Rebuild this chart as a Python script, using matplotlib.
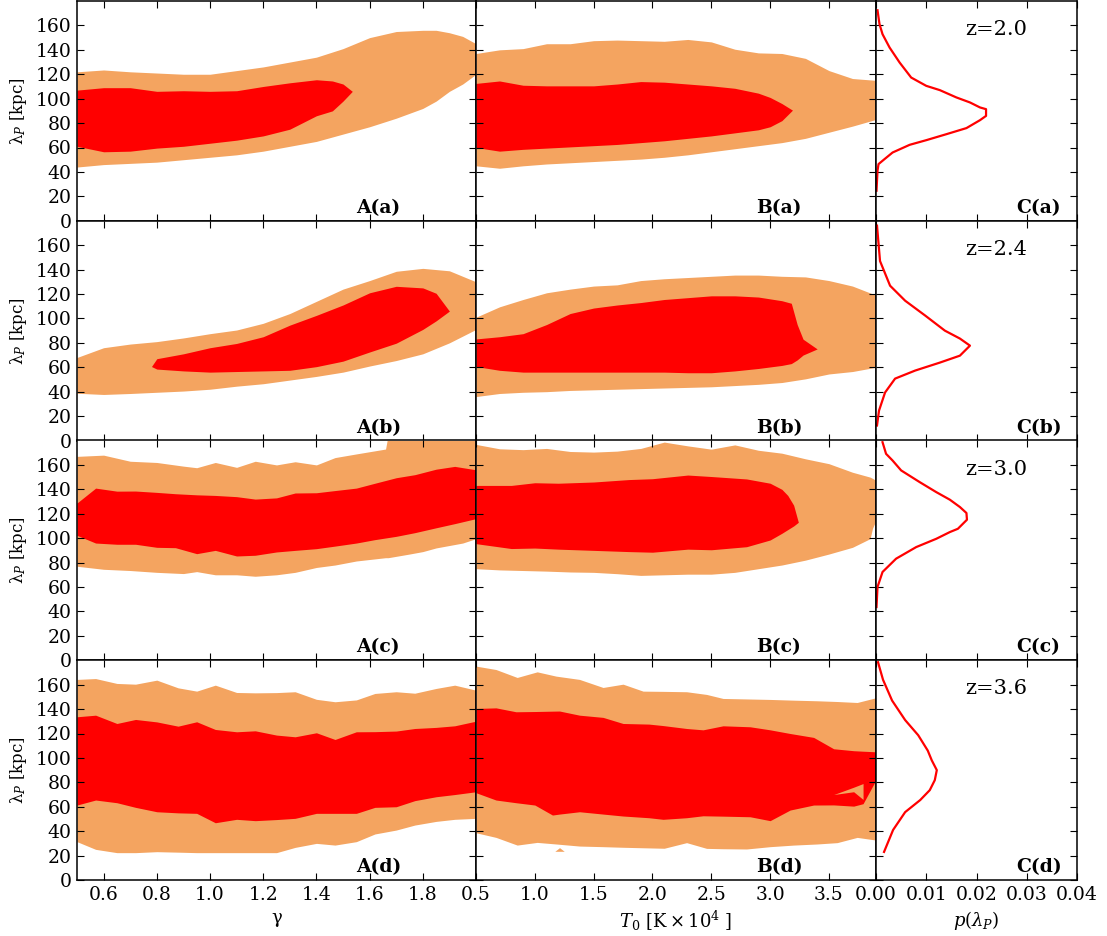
import numpy as np
import matplotlib.pyplot as plt
from matplotlib.gridspec import GridSpec

plt.rcParams['font.family'] = 'DejaVu Serif'
plt.rcParams['mathtext.fontset'] = 'dejavuserif'

ORANGE = '#f4a460'
RED = '#ff0000'

redshifts = ['z=2.0', 'z=2.4', 'z=3.0', 'z=3.6']
rows = ['a', 'b', 'c', 'd']

# ---- column A: gamma vs lambda_P (outer = orange, inner = red) ----
ga_out_x = [0.5, 0.6, 0.7, 0.8, 0.9, 1.0, 1.1, 1.2, 1.3, 1.4, 1.5, 1.6, 1.7, 1.8, 1.85, 1.9, 1.95, 2.0]
ga_out_hi = [122, 123.5, 122, 121, 120, 120, 123, 126, 130, 134, 141, 150, 155, 156, 156, 154, 151, 145]
ga_out_lo = [44, 46, 47, 48, 50, 52, 54, 57, 61, 65, 71, 77, 84, 92, 98, 106, 112, 120]
ga_in_x = [0.5, 0.6, 0.7, 0.8, 0.9, 1.0, 1.1, 1.2, 1.3, 1.4, 1.46, 1.5, 1.535]
ga_in_hi = [107, 109, 109, 106, 106.5, 106, 106.5, 110, 113, 115.5, 114.5, 112, 106]
ga_in_lo = [61, 56.5, 57, 59.5, 61, 63.5, 66, 69.5, 75, 86, 90, 98, 106]

gb_out_x = [0.5, 0.6, 0.7, 0.8, 0.9, 1.0, 1.1, 1.2, 1.3, 1.4, 1.5, 1.6, 1.7, 1.8, 1.9, 2.0]
gb_out_hi = [68, 76, 79, 81, 84, 87.5, 90.5, 96, 104, 114, 124, 131, 138.6, 141, 139, 130]
gb_out_lo = [38.7, 37.7, 38.5, 39.5, 40.5, 42, 44.5, 46.5, 49.5, 52.5, 56, 61, 65.5, 71, 80, 91]
gb_in_x = [0.78, 0.8, 0.9, 1.0, 1.1, 1.2, 1.3, 1.4, 1.5, 1.6, 1.7, 1.8, 1.85, 1.9]
gb_in_hi = [60.6, 67, 71, 76, 79.5, 85, 94.5, 102.5, 111, 121, 126.3, 125, 120.6, 106]
gb_in_lo = [60.6, 58.5, 57, 56, 56.5, 57, 57.5, 60.5, 65, 72.5, 79.7, 91, 98, 106]

gc_out_x = [0.5, 0.6, 0.7, 0.8, 0.9, 0.95, 1.02, 1.1, 1.17, 1.25, 1.32, 1.4, 1.47, 1.55,
            1.66, 1.67, 1.75, 1.8, 1.85, 1.9, 1.95, 2.0]
gc_out_hi = [167, 168, 163, 162, 159, 157.7, 162, 158, 163, 160, 162.6, 160, 166, 169,
             173, 185, 185, 185, 185, 185, 185, 185]
gc_out_lo = [77, 74.5, 73.5, 72, 71, 72.6, 70, 70, 68.8, 70, 72, 76, 78, 81.3,
             84, 84, 87, 89, 92, 94, 96, 99.6]
gc_in_x = [0.5, 0.57, 0.65, 0.72, 0.8, 0.87, 0.95, 1.02, 1.1, 1.17, 1.25, 1.32, 1.4, 1.47,
           1.55, 1.62, 1.7, 1.77, 1.85, 1.92, 2.0]
gc_in_hi = [128.8, 141, 138.5, 138.6, 137.5, 136.4, 135.5, 135, 134, 132, 133, 137, 137.2, 139,
            141, 145, 149.5, 152, 156.5, 158.8, 156]
gc_in_lo = [102.3, 96, 95, 95, 92.5, 92.2, 87.3, 90, 85.4, 86, 88.7, 90, 91.4, 93.5,
            96, 98.8, 101.5, 104.5, 108.5, 111.9, 116]

gd_x = [0.5, 0.57, 0.65, 0.72, 0.8, 0.88, 0.95, 1.02, 1.1, 1.17, 1.25, 1.32, 1.4, 1.47,
        1.55, 1.62, 1.7, 1.77, 1.85, 1.92, 2.0]
gd_out_hi = [164.3, 165, 161, 160.4, 163.7, 157.4, 154.7, 159.6, 153.6, 153.3, 153.5, 154.2, 148, 146,
             147.5, 152.8, 154.2, 153, 156.9, 159.6, 155.5]
gd_out_lo = [31.4, 25.1, 22.4, 22.4, 23.2, 22.8, 22.4, 22.4, 22.4, 22.4, 22.4, 26.7, 30, 28.6,
             31.4, 37.7, 40.9, 45, 48, 49.7, 50.5]
gd_in_hi = [133.7, 135, 128.2, 131.5, 129.5, 126, 129.6, 123.3, 121.4, 122.2, 118.7, 117.3, 120.6, 115.1,
            121.4, 121.5, 122, 124.1, 125, 126.3, 130.1]
gd_in_lo = [61.4, 65.5, 63.3, 59.5, 55.9, 55, 54.6, 46.9, 49.7, 48.6, 49.5, 50.5, 54.6, 54.6,
            54.6, 59.5, 60, 65, 68.2, 70, 72.3]

# ---- column B: T0 vs lambda_P ----
ta_out_x = [0.5, 0.7, 0.9, 1.1, 1.3, 1.5, 1.7, 1.9, 2.1, 2.3, 2.5, 2.7, 2.9, 3.1, 3.3, 3.5, 3.7, 3.9]
ta_out_hi = [137, 140, 141, 145, 145, 147.5, 148, 147.5, 147, 148.5, 146.5, 140.5, 137.5, 137, 133, 123, 116.5, 115]
ta_out_lo = [45, 43, 45, 46.5, 47.5, 48.5, 49.5, 50.5, 52, 54, 56.5, 59, 61.5, 64, 67.5, 72.5, 77.5, 83]
ta_in_x = [0.5, 0.7, 0.9, 1.1, 1.3, 1.5, 1.7, 1.9, 2.1, 2.3, 2.5, 2.7, 2.9, 3.0, 3.1, 3.19]
ta_in_hi = [112.5, 114.5, 111, 110.5, 110.5, 110.5, 112, 114, 113.5, 112, 110.5, 108.5, 104.5, 101, 96, 90.6]
ta_in_lo = [60, 57, 58.5, 59.5, 60.5, 61.5, 62.5, 64, 65.5, 67.5, 69.5, 72, 74.5, 77, 82, 90.6]

tb_out_x = [0.5, 0.7, 0.9, 1.1, 1.3, 1.5, 1.7, 1.9, 2.1, 2.3, 2.5, 2.7, 2.9, 3.1, 3.3, 3.5, 3.7, 3.9]
tb_out_hi = [101, 109.5, 115.5, 121, 124, 126.5, 127.5, 131, 132.5, 133.5, 134.5, 135.5, 135.5, 134.5, 134, 131, 126.5, 119]
tb_out_lo = [36, 38.5, 39.5, 40, 41, 41.5, 42, 42.5, 43, 43.5, 44, 45, 46, 47.5, 50.5, 54.5, 56.5, 60]
tb_in_x = [0.5, 0.7, 0.9, 1.1, 1.3, 1.5, 1.7, 1.9, 2.1, 2.3, 2.5, 2.7, 2.9, 3.1, 3.18, 3.23, 3.28, 3.4]
tb_in_hi = [83.2, 85, 87.5, 95, 104, 108.5, 111, 113, 115.5, 117, 118.5, 118.5, 117.5, 114.5, 112.4, 95, 83, 75]
tb_in_lo = [60.6, 57.5, 56, 56, 56, 56, 56, 56, 56, 55.5, 55.5, 57, 59, 61.5, 63, 66, 70, 75]

tc_out_x = [0.5, 0.7, 0.9, 1.1, 1.3, 1.5, 1.7, 1.9, 2.1, 2.3, 2.5, 2.7, 2.9, 3.1, 3.3, 3.5, 3.7, 3.85, 3.87, 3.9]
tc_out_hi = [176.8, 173.2, 172.5, 173.5, 171, 170.5, 171.3, 173.5, 178.7, 175.6, 172.9, 176.4, 172, 169.6,
             165, 161, 154, 150, 149, 147.3]
tc_out_lo = [75, 74, 73.5, 73, 72.3, 72, 70.9, 69.5, 70, 70.5, 70.5, 72, 75, 78, 82, 87, 92.5, 99.6, 108, 114.6]
tc_in_x = [0.5, 0.8, 1.0, 1.2, 1.5, 1.8, 2.0, 2.3, 2.5, 2.8, 3.0, 3.1, 3.15, 3.2, 3.24]
tc_in_hi = [143.2, 143.2, 145.4, 145, 146, 148, 148.7, 151.7, 150.5, 148.5, 145, 140, 135, 127, 113]
tc_in_lo = [95.5, 91.5, 91.9, 91, 90, 89, 88.5, 91, 90.5, 93, 98.5, 104, 107, 110, 113]

td_out_x = [0.5, 0.67, 0.85, 1.02, 1.18, 1.38, 1.58, 1.75, 1.92, 2.1, 2.29, 2.46, 2.6, 2.8, 3.0, 3.2,
            3.4, 3.57, 3.74, 3.9]
td_out_hi = [175.2, 172.4, 165.9, 170.5, 167, 164.3, 157.7, 160.4, 154.7, 154.5, 154.2, 152, 148.7, 148.3,
             147.9, 147.3, 146.8, 146.2, 145.4, 149.3]
td_out_lo = [38.7, 34.9, 28.6, 30.8, 29.5, 27.8, 27.3, 26.8, 26.4, 26, 30.6, 25.9, 25.6, 25.4, 27.3, 28.6,
             29.5, 30.6, 34.9, 32.7]
td_in_x = [0.5, 0.67, 0.84, 1.0, 1.15, 1.21, 1.38, 1.58, 1.75, 1.97, 2.09, 2.29, 2.43, 2.6, 2.83, 3.0,
           3.17, 3.37, 3.54, 3.71, 3.79, 3.9]
td_in_hi = [140.5, 141, 137.8, 138, 138.3, 138.4, 135, 133.2, 128.2, 127.7, 126.5, 124.1, 123, 126.3, 125.5, 123,
            120, 116.8, 107.5, 105.9, 105.5, 105]
td_in_lo = [71.5, 65.5, 63.3, 61.4, 53.2, 54, 55.9, 54, 52.4, 51, 49.7, 51, 52.6, 52.3, 51.8, 48.6,
            57.3, 61.4, 61.5, 60.5, 62.5, 82]
# orange notch inside the red region and a small orange island
td_notch_x = [3.54, 3.71, 3.79]
td_notch_lo = [70, 72.3, 66]
td_notch_hi = [70, 76, 79]
td_island_x = [1.17, 1.21, 1.25]
td_island_lo = [23.5, 23.5, 23.5]
td_island_hi = [23.5, 26.5, 23.5]

# ---- column C: marginal p(lambda_P) ----
pa_p = [0.0001, 0.0003, 0.0005, 0.0017, 0.0033, 0.0067, 0.010, 0.014, 0.018, 0.0207, 0.0219, 0.0219,
        0.0207, 0.0187, 0.016, 0.0127, 0.010, 0.007, 0.0047, 0.0027, 0.0013, 0.0007, 0.0003]
pa_lam = [24.6, 40.9, 46.4, 50.5, 55.9, 62.2, 66, 70.9, 75.9, 82.4, 85.9, 91.4,
          92.8, 96.9, 101, 107, 110.5, 117.3, 129.6, 141.9, 152.8, 161, 172.4]
pb_p = [0.0002, 0.0006, 0.0018, 0.0038, 0.0078, 0.0127, 0.0167, 0.0187, 0.0167, 0.0137, 0.0098,
        0.0058, 0.0028, 0.0008, 0.0002]
pb_lam = [12.3, 24.5, 39.3, 50.7, 57.3, 63.8, 69.5, 77.7, 83.5, 90, 102.3, 114.5, 126.8, 147, 176]
pc_p = [0.0001, 0.0003, 0.0013, 0.004, 0.008, 0.012, 0.0147, 0.0163, 0.0181, 0.018, 0.0167, 0.0147,
        0.012, 0.0087, 0.005, 0.0033, 0.002, 0.0013]
pc_lam = [43.6, 60, 72.3, 83.2, 92.7, 99.5, 105, 107.7, 115.1, 120.6, 125.5, 131.5,
          137.7, 145.9, 155.5, 163.6, 169.1, 178.6]
pd_p = [0.0016, 0.0034, 0.0058, 0.0088, 0.0107, 0.0117, 0.0121, 0.0111, 0.0103, 0.0084, 0.0058,
        0.0032, 0.0014, 0.0004]
pd_lam = [23, 41, 55.6, 65.5, 73.6, 81.8, 90, 98, 106, 118.6, 131, 147, 164, 178.4]

gamma_panels = [
    (ga_out_x, ga_out_lo, ga_out_hi, ga_in_x, ga_in_lo, ga_in_hi),
    (gb_out_x, gb_out_lo, gb_out_hi, gb_in_x, gb_in_lo, gb_in_hi),
    (gc_out_x, gc_out_lo, gc_out_hi, gc_in_x, gc_in_lo, gc_in_hi),
    (gd_x, gd_out_lo, gd_out_hi, gd_x, gd_in_lo, gd_in_hi),
]
temp_panels = [
    (ta_out_x, ta_out_lo, ta_out_hi, ta_in_x, ta_in_lo, ta_in_hi),
    (tb_out_x, tb_out_lo, tb_out_hi, tb_in_x, tb_in_lo, tb_in_hi),
    (tc_out_x, tc_out_lo, tc_out_hi, tc_in_x, tc_in_lo, tc_in_hi),
    (td_out_x, td_out_lo, td_out_hi, td_in_x, td_in_lo, td_in_hi),
]
pdf_panels = [(pa_p, pa_lam), (pb_p, pb_lam), (pc_p, pc_lam), (pd_p, pd_lam)]


def contours(ax, panel):
    ox, olo, ohi, ix, ilo, ihi = panel
    ax.fill_between(ox, olo, ohi, color=ORANGE, lw=0)
    ax.fill_between(ix, ilo, ihi, color=RED, lw=0)


def style(ax, bottom, left):
    ax.set_ylim(0, 180)
    ax.set_yticks(np.arange(0, 161, 20))
    ax.tick_params(direction='in', top=True, right=True, length=5, width=0.8,
                   labelsize=13.5, pad=4, labelbottom=bottom, labelleft=left)
    for s in ax.spines.values():
        s.set_linewidth(1.1)


fig = plt.figure(figsize=(11.07, 9.36), dpi=100)
gs = GridSpec(4, 3, figure=fig, width_ratios=[399, 400, 201],
              left=77 / 1107, right=1077 / 1107, top=1 - 1 / 936, bottom=1 - 880 / 936,
              hspace=0, wspace=0)

for i in range(4):
    last = i == 3
    axA = fig.add_subplot(gs[i, 0])
    axB = fig.add_subplot(gs[i, 1])
    axC = fig.add_subplot(gs[i, 2])

    contours(axA, gamma_panels[i])
    axA.set_xlim(0.5, 2.0)
    axA.set_xticks(np.arange(0.6, 1.81, 0.2))
    style(axA, last, True)
    axA.set_ylabel(r'λ$_P$ [kpc]', fontsize=12, labelpad=5)

    contours(axB, temp_panels[i])
    if i == 3:
        axB.fill_between(td_notch_x, td_notch_lo, td_notch_hi, color=ORANGE, lw=0)
        axB.fill_between(td_island_x, td_island_lo, td_island_hi, color=ORANGE, lw=0)
    axB.set_xlim(0.5, 3.9)
    axB.set_xticks(np.arange(0.5, 3.51, 0.5))
    style(axB, last, False)

    p, lam = pdf_panels[i]
    axC.plot(p, lam, color=RED, lw=1.6)
    axC.set_xlim(0, 0.04)
    axC.set_xticks([0.0, 0.01, 0.02, 0.03, 0.04])
    axC.xaxis.set_major_formatter(plt.FormatStrFormatter('%.2f'))
    style(axC, last, False)
    axC.text(0.6, 0.87, redshifts[i], transform=axC.transAxes, fontsize=15,
             ha='center', va='center')

    for ax, col in zip([axA, axB, axC], 'ABC'):
        ax.text(0.70, 0.035, '%s(%s)' % (col, rows[i]), transform=ax.transAxes,
                fontsize=13.5, fontweight='bold', ha='left', va='baseline')

    if last:
        axA.set_xlabel('γ', fontsize=13)
        axB.set_xlabel(r'$T_0\ [\mathrm{K}\times 10^4\ ]$', fontsize=13)
        axC.set_xlabel(r'$p(\lambda_P)$', fontsize=13)

fig.savefig('out.png', dpi=100)
